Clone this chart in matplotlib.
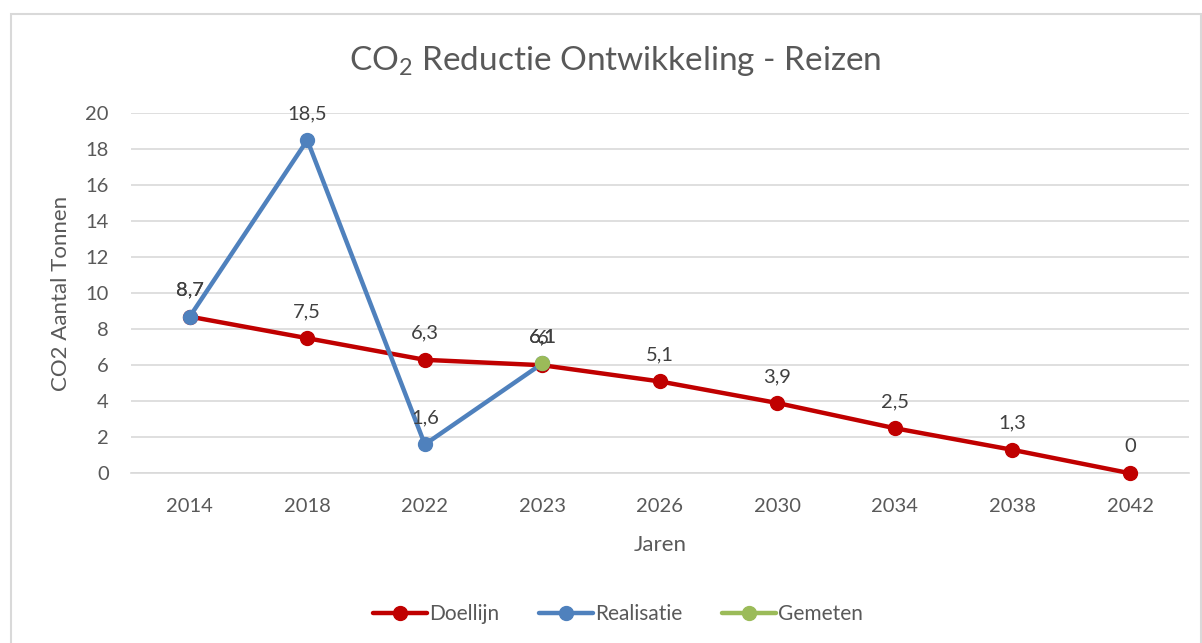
import matplotlib.pyplot as plt
import numpy as np

plt.rcParams.update({"font.family": "Lato"})
plt.rcParams["mathtext.fontset"] = "custom"
plt.rcParams["mathtext.rm"] = "Lato"

YEARS = ["2014", "2018", "2022", "2023", "2026", "2030", "2034", "2038", "2042"]
DOELLIJN = [8.7, 7.5, 6.3, 6.0, 5.1, 3.9, 2.5, 1.3, 0.0]
REALISATIE = [8.7, 18.5, 1.6, 6.1, np.nan, np.nan, np.nan, np.nan, np.nan]
GEMETEN = [np.nan, np.nan, np.nan, 6.1, np.nan, np.nan, np.nan, np.nan, np.nan]

TEXT = "#595959"
SERIES = [
    ("Doellijn", DOELLIJN, "#C00000"),
    ("Realisatie", REALISATIE, "#4F81BD"),
    ("Gemeten", GEMETEN, "#9BBB59"),
]


def fmt(v):
    s = f"{v:.1f}".rstrip("0").rstrip(".")
    return s.replace(".", ",")


def main():
    fig = plt.figure(figsize=(12.02, 6.43), dpi=100)
    ax = fig.add_axes([0.109, 0.264, 0.880, 0.560])
    x = np.arange(len(YEARS))

    for name, vals, color in SERIES:
        ax.plot(x, vals, color=color, linewidth=3.2, marker="o", markersize=10,
                label=name, zorder=3, solid_capstyle="round", clip_on=False)
        for xi, v in zip(x, vals):
            if np.isnan(v):
                continue
            ax.annotate(fmt(v), (xi, v), xytext=(0, 13), textcoords="offset points",
                        ha="center", va="bottom", fontsize=14.5, color="#404040")

    ax.set_xlim(-0.5, len(YEARS) - 0.5)
    ax.set_ylim(0, 20)
    ax.set_yticks(range(0, 21, 2))
    ax.set_xticks(x)
    ax.set_xticklabels(YEARS)
    ax.grid(axis="y", color="#D9D9D9", linewidth=1.2)
    ax.set_axisbelow(True)
    for side in ("top", "right", "left"):
        ax.spines[side].set_visible(False)
    ax.spines["bottom"].set_color("#D9D9D9")
    ax.spines["bottom"].set_linewidth(1.2)
    ax.tick_params(axis="both", length=0, labelsize=14.5, colors=TEXT)
    ax.tick_params(axis="y", pad=16)
    ax.tick_params(axis="x", pad=18)

    ax.set_xlabel("Jaren", fontsize=16, color=TEXT, labelpad=14)
    ax.set_ylabel("CO2 Aantal Tonnen", fontsize=16, color=TEXT, labelpad=10)
    fig.text(0.512, 0.905, r"CO$_2$ Reductie Ontwikkeling - Reizen",
             ha="center", va="center", fontsize=24, color=TEXT)

    fig.legend(loc="center", bbox_to_anchor=(0.514, 0.045), ncol=3, frameon=False,
               fontsize=15, labelcolor=TEXT, handlelength=2.6, handletextpad=0.1,
               columnspacing=1.9)

    border = plt.Rectangle((0.009, -0.1), 0.99, 1.078, transform=fig.transFigure,
                           fill=False, edgecolor="#D9D9D9", linewidth=1.5)
    fig.patches.append(border)

    fig.savefig("out.png", dpi=100)


if __name__ == "__main__":
    main()
